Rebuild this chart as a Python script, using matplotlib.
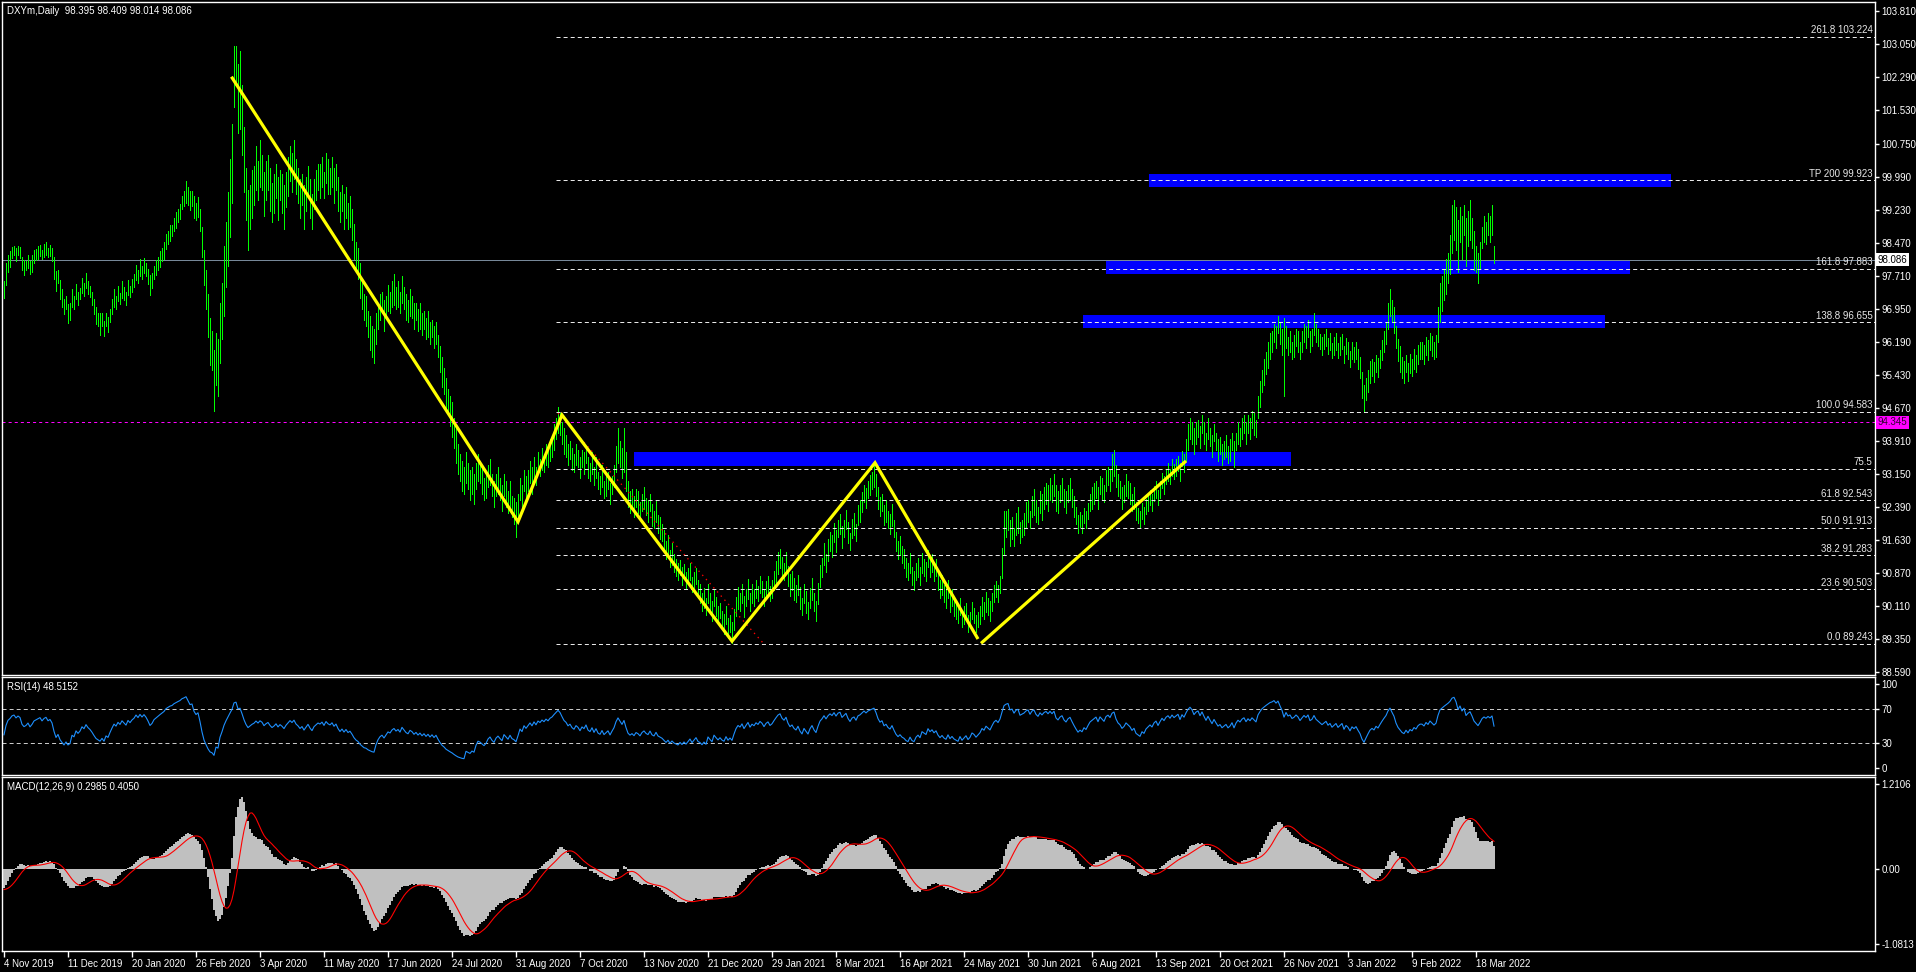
import numpy as np
import matplotlib
matplotlib.use('Agg')
import matplotlib.pyplot as plt
from matplotlib.patches import Rectangle

plt.rcParams['font.family'] = ['Liberation Sans', 'DejaVu Sans']
plt.rcParams['lines.scale_dashes'] = False

# ---------------- data ----------------
header_text = "DXYm,Daily  98.395 98.409 98.014 98.086"
rsi_text = "RSI(14) 48.5152"
macd_text = "MACD(12,26,9) 0.2985 0.4050"

# bars before the visible window (Oct 2019), only used to warm up the indicators
pre_mid = [98.6, 98.7, 98.9, 98.8, 99.0, 99.1, 99.2, 99.3, 99.1, 98.9,
           98.8, 98.9, 98.7, 98.8, 98.9, 99.0, 98.8, 98.9, 98.6, 98.4,
           98.3, 98.0, 97.9, 97.6, 97.4, 97.3, 97.4, 97.5, 97.6, 97.7,
           97.8, 97.7, 97.6, 97.5, 97.4, 97.3, 97.4, 97.2, 97.3, 97.3]

# daily bar mid prices (high+low)/2, one per bar from 4 Nov 2019
mid = [
    97.4, 97.75, 98.0, 98.1,
    98.25, 98.3, 98.2, 98.3, 98.25,
    98.0, 97.9, 97.95, 98.05,
    97.9, 98.0, 98.15, 98.2,
    98.25, 98.3, 98.2, 98.3, 98.35, 98.25, 98.3, 98.2,
    97.9, 97.6, 97.7,
    97.4, 97.2, 97.0, 97.1, 96.85, 96.9,
    97.2, 97.1, 97.35, 97.2, 97.3, 97.5, 97.4, 97.6, 97.45, 97.35, 97.2,
    97.0, 96.8, 96.7, 96.6, 96.7, 96.5, 96.7, 96.6, 96.8,
    97.0, 97.2, 97.1, 97.3, 97.2, 97.4, 97.3, 97.2, 97.45, 97.35, 97.5,
    97.6, 97.8, 97.7, 97.9, 97.8, 97.95, 97.85, 97.7, 97.5, 97.6, 97.8, 97.9, 98.0,
    98.1, 98.2, 98.3, 98.5, 98.6, 98.7, 98.75, 98.9, 99.0, 99.1, 99.2, 99.4, 99.5, 99.65,
    99.55, 99.45, 99.5, 99.3, 99.2, 99.3, 99.0,
    98.5, 97.9, 97.4, 96.8, 96.2,
    96.0, 95.3, 95.8, 95.6,
    96.4, 96.9, 97.6, 98.2, 98.8, 99.5, 100.3,
    102.3, 102.6, 101.8, 102.0,
    101.3, 100.4, 99.6,
    99.0, 99.3, 99.6, 99.8,
    100.2, 99.9, 100.3, 100.1, 99.6, 99.9, 100.1, 99.7, 99.4,
    99.6, 99.9, 99.5, 99.8, 99.6, 99.3, 99.7,
    100.0, 100.3, 100.1, 100.4, 100.0,
    99.8, 99.5, 99.7, 99.3, 99.6, 99.9, 99.5, 99.2, 99.6,
    99.8, 100.0, 99.9, 100.1, 99.8, 100.2, 100.0, 99.9, 100.1, 99.8, 100.0,
    99.6, 99.3, 99.5, 99.2, 99.4, 99.1, 99.2,
    98.9, 98.5, 98.2, 98.0, 97.6,
    97.3, 97.0, 96.9, 96.6, 96.4, 96.2, 96.1, 96.5, 96.8,
    97.0, 97.1, 96.8, 97.0, 97.2, 97.1, 97.3, 97.4, 97.2, 97.3, 97.1, 97.4, 97.2, 97.0, 96.9, 97.1,
    97.0, 96.8, 96.9, 96.7, 96.8, 96.6, 96.7, 96.5, 96.6, 96.4, 96.5, 96.3, 96.4,
    96.1, 95.8, 95.5, 95.3, 95.0, 94.8, 94.6,
    94.4, 94.1, 93.8, 93.5, 93.3, 93.1, 93.0, 93.3, 93.1, 92.9, 93.0, 92.8, 93.1,
    93.3, 93.2, 93.0, 92.8, 92.9, 93.1, 93.2, 92.9, 92.7, 92.9, 93.0,
    92.8, 92.6, 92.9, 92.7, 92.5, 92.7, 92.4, 92.3, 92.1,
    92.4, 92.8, 92.6, 93.0, 92.8, 93.0, 93.2, 93.0,
    93.3, 93.1, 93.4, 93.3, 93.5, 93.4, 93.6, 93.5, 93.7, 93.8, 94.0,
    94.2, 94.4, 94.3, 94.1, 93.9, 93.8,
    93.6, 93.7, 93.5, 93.4, 93.6, 93.5, 93.3, 93.5,
    93.4, 93.6, 93.3, 93.2, 93.4, 93.1, 93.3, 93.0,
    92.9, 93.1, 92.8, 92.9, 93.0, 92.7, 92.9, 93.1,
    93.5, 93.8, 93.6, 93.4, 93.7, 93.2,
    92.7, 92.5, 92.6, 92.4, 92.6, 92.5, 92.3,
    92.5, 92.6, 92.4, 92.3, 92.5, 92.2, 92.1, 92.3, 92.0, 91.9, 91.8,
    91.6, 91.4, 91.5, 91.2, 91.3, 91.1, 91.0,
    90.9, 91.0, 90.8, 90.9, 90.7, 90.8, 90.9, 90.6, 90.7, 90.8, 90.5,
    90.4, 90.2, 90.3, 90.1, 90.4, 90.2, 90.0,
    90.3, 90.1, 89.9, 90.0, 89.8, 89.7, 89.9, 89.6, 89.7, 89.5,
    89.8, 90.1, 90.3, 90.2, 90.4, 90.1, 90.3, 90.5, 90.2, 90.4, 90.3,
    90.5, 90.4, 90.6, 90.5, 90.3, 90.5, 90.6, 90.4, 90.5, 90.7, 90.9,
    91.1, 91.2, 91.0, 90.9, 91.1, 90.8, 90.6,
    90.7, 90.5, 90.4, 90.6, 90.3, 90.1, 90.4, 90.2, 90.0, 90.3, 90.5, 90.2, 90.0, 90.4,
    90.8, 91.0, 91.3, 91.1, 91.4, 91.6, 91.5,
    91.8, 91.6, 91.9, 92.0, 91.7, 91.9, 92.1, 91.8, 91.6, 91.9, 92.0, 91.8, 92.2, 92.3,
    92.5, 92.7, 92.6, 92.8, 92.9, 93.0, 93.1, 92.9,
    92.6, 92.4, 92.5, 92.2, 92.3, 92.1, 92.0, 92.2, 91.9,
    91.6, 91.4, 91.5, 91.3, 91.2,
    91.0, 90.9, 91.1, 90.8, 90.7, 90.9, 91.0, 90.8, 91.1, 91.0, 90.9,
    91.2, 91.0, 91.1, 90.9, 91.0,
    90.7, 90.5, 90.6, 90.4, 90.3, 90.5, 90.2, 90.3, 90.1,
    90.0, 89.9, 90.1, 89.8, 89.9, 90.0, 89.7, 89.8, 90.0, 89.9, 89.7, 89.8,
    89.9, 90.1, 90.0, 90.2, 90.1, 90.0, 90.2,
    90.4, 90.5, 90.4, 90.6, 91.1, 91.8,
    92.0, 92.1, 91.8, 91.9, 91.7, 92.0, 92.1, 91.8, 91.9, 92.0, 92.2,
    92.3, 92.1, 92.4, 92.5, 92.3, 92.2, 92.5, 92.4, 92.6,
    92.7, 92.6, 92.8, 92.7, 92.9, 92.6, 92.5, 92.7,
    92.8, 92.6, 92.5, 92.7, 92.8, 92.6, 92.4, 92.2,
    92.0, 92.1, 92.0, 92.2, 92.1, 92.3, 92.5, 92.6,
    92.7, 92.8, 92.6, 92.9, 92.8, 92.7, 93.0, 93.1, 93.0,
    93.3, 93.4, 93.1,
    92.9, 92.8, 92.6, 92.7, 92.9, 92.8, 92.7, 92.5, 92.6,
    92.3, 92.2, 92.1, 92.3, 92.2, 92.4,
    92.5, 92.6, 92.5, 92.7, 92.8, 92.6, 92.8, 93.0, 92.9,
    93.1, 93.2, 93.1, 93.3, 93.2, 93.3, 93.4, 93.2, 93.5, 93.4,
    93.7, 94.0, 94.2, 94.1, 93.9,
    94.1, 94.2, 94.0, 94.3, 94.1, 93.9, 94.2, 94.0, 93.8, 94.1,
    93.9, 93.7, 93.8, 93.6, 93.7, 93.8, 93.6, 93.7, 93.9, 93.6,
    93.9, 94.1, 94.0, 94.2, 94.3, 94.1, 94.3, 94.2, 94.4, 94.3, 94.2,
    94.7, 95.0, 95.3, 95.5, 95.7, 95.9, 96.1,
    96.2, 96.4, 96.3, 96.6, 96.4, 96.2, 95.85,
    96.3, 96.1, 96.2, 96.0, 96.1, 96.3, 96.2, 96.0,
    96.2, 96.4, 96.3, 96.5, 96.2, 96.3, 96.6, 96.4,
    96.3, 96.2, 96.1, 96.2, 96.3, 96.1, 96.2, 96.0, 96.1,
    96.2, 96.0, 96.1, 96.2, 95.9, 96.1, 96.0, 95.8, 96.0, 95.9,
    96.0, 95.8, 95.6,
    95.2, 94.9, 95.1, 95.3, 95.5,
    95.6, 95.5, 95.7, 95.6, 95.8, 96.0, 96.2,
    96.4, 96.8, 97.1, 96.9, 96.7, 96.3,
    96.0, 95.8, 95.6, 95.5, 95.7,
    95.5, 95.7, 95.6, 95.8, 95.7, 95.9, 96.0,
    96.0, 95.9, 96.1, 96.0, 96.2, 96.1, 96.0, 96.1,
    96.6, 97.1, 97.3, 97.5, 97.7, 97.9, 98.2,
    98.8, 99.0, 98.8,
    98.4, 98.9, 98.6, 99.0, 98.5, 98.8, 99.0, 98.7, 98.3,
    98.1, 97.9, 98.2,
    98.6, 98.8, 98.7, 98.9, 98.8, 99.0, 98.2115,
]

# daily bar ranges (high - low)
rng = [
    0.4, 0.5, 0.4, 0.35,
    0.25, 0.2, 0.3, 0.2, 0.25,
    0.3, 0.35, 0.2, 0.3,
    0.3, 0.4, 0.3, 0.25,
    0.3, 0.25, 0.2, 0.3, 0.3, 0.2, 0.25, 0.3,
    0.5, 0.45, 0.3,
    0.45, 0.4, 0.35, 0.3, 0.45, 0.4,
    0.4, 0.3, 0.35, 0.3, 0.25, 0.35, 0.3, 0.35, 0.3, 0.25, 0.3,
    0.35, 0.4, 0.3, 0.5, 0.3, 0.35, 0.3, 0.35, 0.3,
    0.35, 0.4, 0.3, 0.35, 0.25, 0.4, 0.3, 0.3, 0.35, 0.25, 0.3,
    0.3, 0.35, 0.3, 0.4, 0.3, 0.35, 0.3, 0.35, 0.45, 0.35, 0.3, 0.35, 0.3,
    0.35, 0.3, 0.4, 0.35, 0.3, 0.35, 0.25, 0.3, 0.35, 0.3, 0.35, 0.3, 0.35, 0.5,
    0.4, 0.45, 0.35, 0.5, 0.4, 0.45, 0.5,
    0.7, 0.8, 0.9, 1.0, 1.1,
    0.9, 1.4, 1.2, 1.3,
    1.4, 1.3, 1.6, 1.5, 1.7, 1.8, 1.8,
    1.4, 0.8, 1.6, 1.8,
    1.6, 1.5, 1.2,
    1.4, 1.0, 1.1, 0.9,
    1.0, 0.9, 1.1, 0.8, 1.0, 0.9, 0.8, 1.0, 0.9,
    0.9, 0.8, 1.0, 0.7, 0.9, 1.0, 0.8,
    0.9, 0.8, 0.9, 0.9, 0.8,
    0.8, 0.9, 0.7, 1.0, 0.8, 0.7, 0.9, 0.8, 0.7,
    0.7, 0.6, 0.8, 0.7, 0.6, 0.7, 0.8, 0.6, 0.7, 0.8, 0.6,
    0.8, 0.7, 0.6, 0.8, 0.7, 0.6, 0.7,
    0.7, 0.8, 0.6, 0.7, 0.8,
    0.7, 0.6, 0.7, 0.6, 0.8, 0.7, 0.8, 0.7, 0.6,
    0.6, 0.5, 0.7, 0.5, 0.6, 0.5, 0.6, 0.7, 0.5, 0.6, 0.5, 0.6, 0.5, 0.6, 0.5, 0.6,
    0.5, 0.6, 0.4, 0.5, 0.6, 0.5, 0.4, 0.5, 0.6, 0.5, 0.4, 0.5, 0.5,
    0.5, 0.6, 0.7, 0.6, 0.7, 0.6, 0.7,
    0.8, 0.7, 0.8, 0.7, 0.6, 0.7, 0.6, 0.7, 0.6, 0.7, 0.6, 0.7, 0.6,
    0.6, 0.5, 0.6, 0.5, 0.6, 0.5, 0.6, 0.5, 0.6, 0.5, 0.6,
    0.5, 0.6, 0.5, 0.6, 0.5, 0.6, 0.5, 0.6, 0.8,
    0.6, 0.5, 0.6, 0.5, 0.6, 0.5, 0.5, 0.6,
    0.5, 0.4, 0.5, 0.4, 0.5, 0.4, 0.5, 0.4, 0.5, 0.5, 0.6,
    0.5, 0.6, 0.5, 0.5, 0.6, 0.5,
    0.5, 0.4, 0.5, 0.4, 0.5, 0.4, 0.5, 0.4,
    0.5, 0.4, 0.5, 0.4, 0.5, 0.4, 0.5, 0.4,
    0.4, 0.5, 0.4, 0.5, 0.4, 0.5, 0.4, 0.5,
    0.6, 0.8, 0.6, 0.7, 1.0, 0.9,
    0.6, 0.5, 0.4, 0.5, 0.4, 0.5, 0.4,
    0.4, 0.5, 0.4, 0.5, 0.4, 0.5, 0.4, 0.5, 0.4, 0.5, 0.4,
    0.5, 0.4, 0.5, 0.4, 0.5, 0.4, 0.4,
    0.4, 0.35, 0.4, 0.35, 0.4, 0.35, 0.4, 0.35, 0.4, 0.35, 0.4,
    0.45, 0.4, 0.45, 0.4, 0.45, 0.4, 0.45,
    0.4, 0.45, 0.4, 0.35, 0.4, 0.45, 0.4, 0.45, 0.4, 0.5,
    0.5, 0.45, 0.5, 0.4, 0.45, 0.5, 0.4, 0.45, 0.4, 0.45, 0.4,
    0.4, 0.35, 0.4, 0.35, 0.4, 0.35, 0.4, 0.35, 0.4, 0.45, 0.5,
    0.5, 0.45, 0.5, 0.4, 0.5, 0.45, 0.5,
    0.45, 0.5, 0.4, 0.45, 0.5, 0.4, 0.45, 0.5, 0.4, 0.45, 0.5, 0.4, 0.45, 0.5,
    0.5, 0.45, 0.5, 0.4, 0.5, 0.45, 0.5,
    0.45, 0.5, 0.4, 0.45, 0.5, 0.4, 0.45, 0.5, 0.4, 0.45, 0.5, 0.4, 0.45, 0.5,
    0.45, 0.4, 0.45, 0.4, 0.45, 0.4, 0.5, 0.5,
    0.5, 0.45, 0.4, 0.45, 0.5, 0.4, 0.45, 0.5, 0.4,
    0.45, 0.4, 0.45, 0.4, 0.45,
    0.45, 0.4, 0.45, 0.4, 0.45, 0.4, 0.45, 0.4, 0.45, 0.4, 0.45,
    0.4, 0.45, 0.4, 0.45, 0.4,
    0.45, 0.4, 0.45, 0.4, 0.45, 0.4, 0.45, 0.4, 0.45,
    0.4, 0.35, 0.4, 0.35, 0.4, 0.35, 0.4, 0.35, 0.4, 0.35, 0.4, 0.35,
    0.4, 0.45, 0.4, 0.45, 0.4, 0.45, 0.4,
    0.4, 0.35, 0.4, 0.4, 0.7, 1.0,
    0.6, 0.5, 0.6, 0.5, 0.4, 0.5, 0.6, 0.5, 0.4, 0.5, 0.6,
    0.5, 0.4, 0.5, 0.6, 0.5, 0.4, 0.5, 0.6, 0.5,
    0.5, 0.6, 0.5, 0.4, 0.5, 0.6, 0.5, 0.4,
    0.5, 0.4, 0.5, 0.4, 0.5, 0.4, 0.5, 0.4,
    0.4, 0.35, 0.4, 0.35, 0.4, 0.35, 0.4, 0.5,
    0.5, 0.4, 0.5, 0.4, 0.5, 0.4, 0.5, 0.4, 0.5,
    0.6, 0.6, 0.5,
    0.5, 0.4, 0.5, 0.4, 0.5, 0.4, 0.5, 0.4, 0.5,
    0.4, 0.35, 0.4, 0.35, 0.4, 0.35,
    0.4, 0.35, 0.4, 0.35, 0.4, 0.35, 0.4, 0.35, 0.4,
    0.35, 0.4, 0.35, 0.4, 0.35, 0.4, 0.35, 0.4, 0.35, 0.4,
    0.5, 0.6, 0.5, 0.5, 0.6,
    0.5, 0.4, 0.5, 0.4, 0.5, 0.4, 0.5, 0.4, 0.5, 0.4,
    0.4, 0.5, 0.4, 0.5, 0.4, 0.5, 0.4, 0.5, 0.4, 0.6,
    0.4, 0.5, 0.4, 0.5, 0.4, 0.5, 0.4, 0.5, 0.4, 0.5, 0.4,
    0.5, 0.6, 0.5, 0.6, 0.5, 0.6, 0.6,
    0.5, 0.4, 0.5, 0.4, 0.5, 0.6, 1.8,
    0.5, 0.4, 0.5, 0.4, 0.5, 0.4, 0.5, 0.4,
    0.5, 0.4, 0.5, 0.4, 0.5, 0.4, 0.5, 0.4,
    0.4, 0.35, 0.4, 0.35, 0.4, 0.35, 0.4, 0.35, 0.4,
    0.4, 0.35, 0.4, 0.35, 0.4, 0.35, 0.4, 0.35, 0.4, 0.35,
    0.4, 0.45, 0.5,
    0.6, 0.6, 0.5, 0.5, 0.5,
    0.4, 0.45, 0.4, 0.45, 0.4, 0.45, 0.5,
    0.5, 0.6, 0.6, 0.5, 0.6, 0.5,
    0.5, 0.6, 0.5, 0.5, 0.4,
    0.4, 0.45, 0.4, 0.45, 0.4, 0.45, 0.4,
    0.4, 0.45, 0.4, 0.45, 0.4, 0.45, 0.4, 0.5,
    0.8, 0.9, 0.8, 0.7, 0.8, 0.7, 0.9,
    1.1, 0.9, 1.0,
    1.2, 0.8, 1.0, 0.7, 1.1, 0.8, 0.9, 0.7, 0.9,
    0.6, 0.7, 0.6,
    0.5, 0.6, 0.5, 0.5, 0.6, 0.7, 0.395,
]

bid_price = 98.086
alert_price = 94.345

price_ticks = [103.810, 103.050, 102.290, 101.530, 100.750, 99.990, 99.230,
               98.470, 97.710, 96.950, 96.190, 95.430, 94.670, 93.910,
               93.150, 92.390, 91.630, 90.870, 90.110, 89.350, 88.590]

fib_levels = [103.224, 99.923, 97.883, 96.655, 94.583, 93.275,
              92.543, 91.913, 91.283, 90.503, 89.243]
fib_labels = ['261.8 103.224', 'TP 200 99.923', '161.8 97.883', '138.8 96.655',
              '100.0 94.583', '75.5', '61.8 92.543', '50.0 91.913',
              '38.2 91.283', '23.6 90.503', '0.0 89.243']
fib_start_bar = 276

# yellow zig-zag (bar index, price)
zig_bars = [113.7, 257, 279, 364, 435.5, 487]
zig_prices = [102.30, 92.05, 94.51, 89.30, 93.41, 89.35]
trend2_bars = [488.5, 591]
trend2_prices = [89.25, 93.45]
# red dotted fibonacci base line
fib_trend_bars = [277, 379.5]
fib_trend_prices = [94.55, 89.26]

# blue zones: (start bar, end bar, low price, high price)
zones = [(315, 643.5, 93.34, 93.66),
         (539.5, 800.5, 96.52, 96.81),
         (551, 813, 97.76, 98.06),
         (572.5, 833.5, 99.76, 100.06)]

date_labels = ['4 Nov 2019', '11 Dec 2019', '20 Jan 2020', '26 Feb 2020', '3 Apr 2020',
               '11 May 2020', '17 Jun 2020', '24 Jul 2020', '31 Aug 2020', '7 Oct 2020',
               '13 Nov 2020', '21 Dec 2020', '29 Jan 2021', '8 Mar 2021', '16 Apr 2021',
               '24 May 2021', '30 Jun 2021', '6 Aug 2021', '13 Sep 2021', '20 Oct 2021',
               '26 Nov 2021', '3 Jan 2022', '9 Feb 2022', '18 Mar 2022']
bars_per_label = 32

rsi_ticks = [100, 70, 30, 0]
macd_ticks = [1.2106, 0.0, -1.0813]
macd_tick_labels = ['1.2106', '0.00', '-1.0813']

# ---------------- derived series ----------------
n = min(len(mid), len(rng))
mid_a = np.array(mid[:n])
rng_a = np.array(rng[:n])
highs = mid_a + rng_a / 2
lows = mid_a - rng_a / 2
x = np.arange(n)

close = np.array(pre_mid + list(mid_a))
npre = len(pre_mid)


def ema(v, p):
    a = 2.0 / (p + 1)
    out = np.empty_like(v)
    out[0] = v[0]
    for i in range(1, len(v)):
        out[i] = a * v[i] + (1 - a) * out[i - 1]
    return out


macd = ema(close, 12) - ema(close, 26)
signal = np.convolve(macd, np.ones(9) / 9, mode='full')[:len(macd)]
signal[:8] = np.nan

p = 14
delta = np.diff(close, prepend=close[0])
up = np.clip(delta, 0, None)
dn = np.clip(-delta, 0, None)
rsi = np.full(len(close), np.nan)
au = up[1:p + 1].mean()
ad = dn[1:p + 1].mean()
for i in range(p + 1, len(close)):
    au = (au * (p - 1) + up[i]) / p
    ad = (ad * (p - 1) + dn[i]) / p
    rsi[i] = 100.0 if ad == 0 else 100 - 100 / (1 + au / ad)

macd_v = macd[npre:]
signal_v = signal[npre:]
rsi_v = rsi[npre:]

# ---------------- figure ----------------
W, H = 1916, 972
fig = plt.figure(figsize=(W / 100, H / 100), dpi=100, facecolor='black')
FS = 7


def axes_px(top, bottom):
    return fig.add_axes([2 / W, 1 - bottom / H, 1873 / W, (bottom - top) / H])


ax = axes_px(2, 675)
ax_rsi = axes_px(677, 775)
ax_macd = axes_px(777, 951)
XMAX = 935.5
for a in (ax, ax_rsi, ax_macd):
    a.set_facecolor('black')
    for s in a.spines.values():
        s.set_color('white')
        s.set_linewidth(1)
    a.set_xlim(-1, XMAX)
    a.yaxis.tick_right()
    a.tick_params(axis='y', colors='white', labelcolor='white', length=3,
                  width=1, labelsize=FS, pad=1.5)
    a.tick_params(axis='x', length=0, labelbottom=False)

PX = 0.72  # one pixel in points

# main price panel
ax.set_ylim(88.521, 104.021)
ax.set_yticks(price_ticks)
ax.set_yticklabels([f'{v:.3f}' for v in price_ticks])

for (b0, b1, lo, hi) in zones:
    ax.add_patch(Rectangle((b0, lo), b1 - b0, hi - lo, facecolor='#0000ff',
                           edgecolor='none', zorder=1))

ax.axhline(bid_price, color='#778899', lw=PX, zorder=1.5)
ax.axhline(alert_price, color='#ff00ff', lw=PX, ls=(0, (2.2, 2.2)), zorder=1.5)

ax.vlines(x, lows, highs, colors='#00ff00', lw=PX, antialiased=False, zorder=2)

ax.hlines(fib_levels, fib_start_bar, XMAX, colors='#e8e8e8', lw=PX,
          linestyles=[(0, (2.9, 2.2))], zorder=3)
for lvl, lab in zip(fib_levels, fib_labels):
    ax.text(934.2, lvl + 0.03, lab, ha='right', va='bottom', color='#e8e8e8',
            fontsize=FS, zorder=5)

ax.plot(fib_trend_bars, fib_trend_prices, color='#ff0000', lw=PX * 1.3,
        ls=(0, (1.0, 3.0)), zorder=3)
ax.plot(zig_bars, zig_prices, color='#ffff00', lw=2.3, solid_joinstyle='miter',
        solid_capstyle='butt', zorder=4)
ax.plot(trend2_bars, trend2_prices, color='#ffff00', lw=2.3,
        solid_capstyle='butt', zorder=4)

ax.annotate(f'{bid_price:.3f}', xy=(1, bid_price), xycoords=('axes fraction', 'data'),
            xytext=(2.0, 0), textcoords='offset points', ha='left', va='center',
            fontsize=FS, color='black', annotation_clip=False,
            bbox=dict(boxstyle='square,pad=0.15', fc='white', ec='none'))
ax.annotate(f'{alert_price:.3f}', xy=(1, alert_price), xycoords=('axes fraction', 'data'),
            xytext=(2.0, 0), textcoords='offset points', ha='left', va='center',
            fontsize=FS, color='#300030', annotation_clip=False,
            bbox=dict(boxstyle='square,pad=0.15', fc='#ff00ff', ec='none'))

# RSI panel
ax_rsi.set_ylim(-8.33, 108.33)
ax_rsi.set_yticks(rsi_ticks)
ax_rsi.set_yticklabels([str(v) for v in rsi_ticks])
ax_rsi.hlines([70, 30], -1, XMAX, colors='#c8c8c8', lw=PX,
              linestyles=[(0, (2.9, 2.2))], zorder=1)
ax_rsi.plot(x, rsi_v, color='#1e90ff', lw=PX * 1.1, zorder=2)

# MACD panel
ax_macd.set_ylim(-1.1816, 1.3109)
ax_macd.set_yticks(macd_ticks)
ax_macd.set_yticklabels(macd_tick_labels)
ax_macd.bar(x, macd_v, width=1.0, color='#c0c0c0', linewidth=0, zorder=1)
ax_macd.plot(x, signal_v, color='#ff0000', lw=PX * 1.1, zorder=2)

date_bars = np.arange(len(date_labels)) * bars_per_label
ax_macd.set_xticks(date_bars)
ax_macd.set_xticklabels(date_labels)
ax_macd.tick_params(axis='x', length=4, width=1, colors='white', labelcolor='white',
                    labelbottom=True, labelsize=FS, pad=1.5)
for lbl in ax_macd.get_xticklabels():
    lbl.set_ha('left')

# panel headers
fig.text(7 / W, 1 - 11 / H, header_text, color='white', fontsize=FS, va='center', ha='left')
fig.text(7 / W, 1 - 687 / H, rsi_text, color='white', fontsize=FS, va='center', ha='left')
fig.text(7 / W, 1 - 787 / H, macd_text, color='white', fontsize=FS, va='center', ha='left')

fig.savefig('out.png', dpi=100, facecolor='black')
